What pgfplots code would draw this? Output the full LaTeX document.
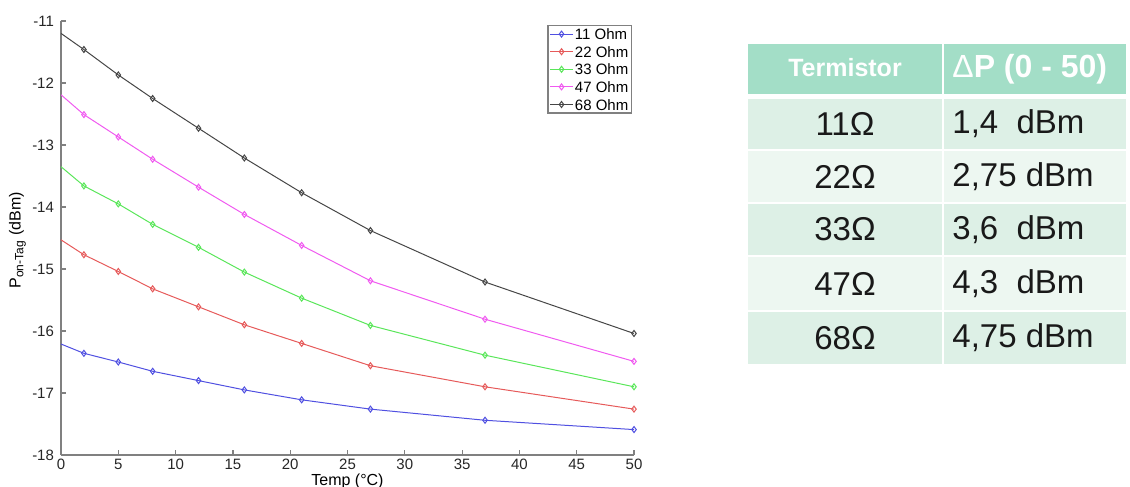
\documentclass[border=0pt]{standalone}
\usepackage{pgfplots}
\pgfplotsset{compat=1.18}
\usepackage{fontspec}
\setmainfont{Liberation Sans}
\definecolor{cB}{RGB}{80,80,225}
\definecolor{cR}{RGB}{230,90,90}
\definecolor{cG}{RGB}{90,230,90}
\definecolor{cM}{RGB}{240,90,240}
\definecolor{cK}{RGB}{70,70,70}
\definecolor{hdr}{RGB}{163,222,199}
\definecolor{rowA}{RGB}{221,240,230}
\definecolor{rowB}{RGB}{237,247,241}
\begin{document}
\begin{tikzpicture}
\path[use as bounding box] (0,0) rectangle (565pt,243.5pt);
\begin{axis}[
  at={(30.5pt,16pt)}, anchor=south west,
  scale only axis, width=286.5pt, height=217pt,
  xmin=0, xmax=50, ymin=-18, ymax=-11,
  xtick={0,5,...,50}, ytick={-18,-17,...,-11},
  axis x line*=bottom, axis y line*=left,
  axis line style={-, draw=gray, line width=0.8pt},
  tick align=inside, major tick length=2.5pt,
  tick style={draw=gray, line width=0.6pt},
  tick label style={font=\fontsize{7.5}{8.5}\selectfont, text=black!85},
  xticklabel style={yshift=1.5pt},
  /pgf/number format/assume math mode=true,
  xlabel={Temp (°C)}, xlabel style={font=\fontsize{8}{9}\selectfont, at={(axis description cs:0.5,-0.06)}, anchor=center},
  ylabel={P\textsubscript{on-Tag} (dBm)}, ylabel style={font=\fontsize{8}{9}\selectfont, at={(axis description cs:-0.076,0.495)}, anchor=center},
  every axis plot/.append style={line width=0.5pt, mark=diamond, mark size=1.5pt, mark phase=2, mark repeat=1, mark options={solid, fill=none}},
  legend image code/.code={\draw[mark repeat=2,mark phase=2,#1] plot coordinates {(0pt,0pt)(5.75pt,0pt)(11.5pt,0pt)};},
  legend style={at={(rel axis cs:0.9965,0.991)}, anchor=north east, draw=gray, line width=0.7pt,
    font=\fontsize{7.5}{8}\selectfont, inner sep=0.8pt, row sep=1.9pt,
    nodes={inner sep=0.7pt, text height=5.5pt, text depth=0pt},
    /tikz/every even column/.append style={column sep=1pt}},
  legend cell align=left,
]
\addplot[cB] coordinates {(0,-16.21)(2,-16.36)(5,-16.50)(8,-16.65)(12,-16.80)(16,-16.95)(21,-17.11)(27,-17.26)(37,-17.44)(50,-17.59)};
\addplot[cR] coordinates {(0,-14.53)(2,-14.77)(5,-15.04)(8,-15.32)(12,-15.61)(16,-15.90)(21,-16.20)(27,-16.56)(37,-16.90)(50,-17.26)};
\addplot[cG] coordinates {(0,-13.35)(2,-13.66)(5,-13.95)(8,-14.28)(12,-14.65)(16,-15.05)(21,-15.47)(27,-15.91)(37,-16.39)(50,-16.90)};
\addplot[cM] coordinates {(0,-12.19)(2,-12.51)(5,-12.87)(8,-13.23)(12,-13.68)(16,-14.12)(21,-14.62)(27,-15.19)(37,-15.81)(50,-16.49)};
\addplot[cK] coordinates {(0,-11.20)(2,-11.46)(5,-11.87)(8,-12.25)(12,-12.73)(16,-13.21)(21,-13.77)(27,-14.38)(37,-15.21)(50,-16.04)};
\legend{11 Ohm,22 Ohm,33 Ohm,47 Ohm,68 Ohm}
\end{axis}
\begin{scope}[x=0.5pt,y=-0.5pt,yshift=243.5pt]
  \fill[hdr] (748,44) rectangle (941.5,94);
  \fill[hdr] (944,44) rectangle (1126,94);
  \foreach \t/\b/\c in {99/149/rowA,151/202/rowB,204/255/rowA,257/310/rowB,312/364/rowA}{
    \fill[\c] (748,\t) rectangle (941.5,\b);
    \fill[\c] (944,\t) rectangle (1126,\b);
  }
  \node[text=white, font=\fontsize{12.5}{14}\selectfont\bfseries] at (845,68) {Termistor};
  \node[text=white, font=\fontsize{16}{18}\selectfont\bfseries, anchor=west, inner sep=0pt] at (952,69) {{\mdseries Δ}P (0 - 50)};
  \foreach \y/\a/\d in {124/11Ω/{1,4\ \ dBm},176.5/22Ω/{2,75 dBm},229.5/33Ω/{3,6\ \ dBm},283.5/47Ω/{4,3\ \ dBm},338/68Ω/{4,75 dBm}}{
    \node[font=\fontsize{16.5}{18}\selectfont, text=black!90] at (845,\y) {\a};
    \node[font=\fontsize{16.5}{18}\selectfont, text=black!90, anchor=west, inner sep=0pt] at (952,\y) {\d};
  }
\end{scope}
\end{tikzpicture}
\end{document}
